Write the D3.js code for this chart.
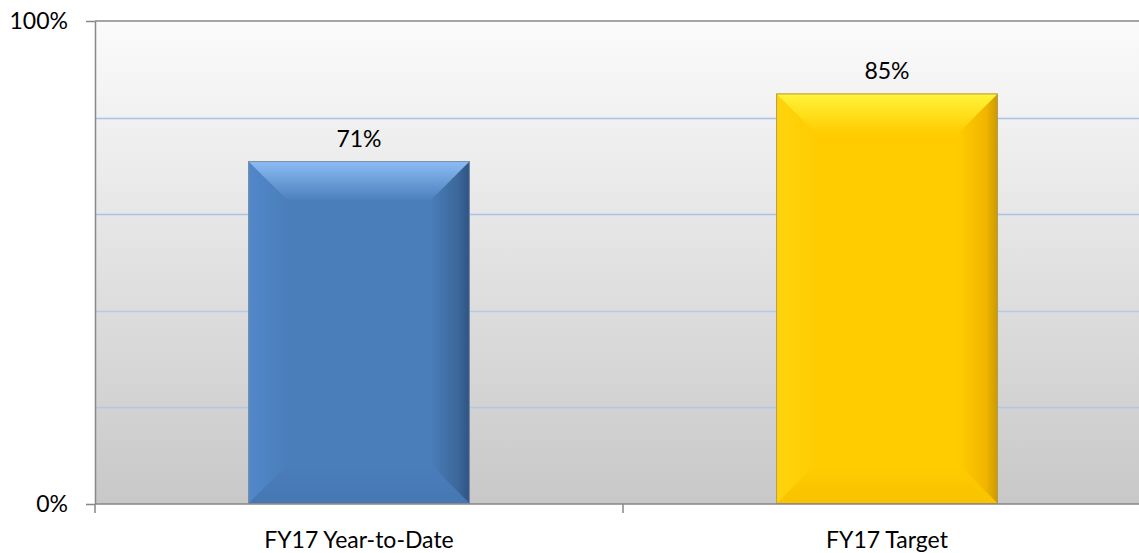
<!DOCTYPE html>
<html>
<head>
<meta charset="utf-8">
<script src="https://cdn.jsdelivr.net/npm/d3@7"></script>
<style>
  html, body { margin: 0; padding: 0; background: #fff; }
  svg text { font-family: Lato, "Liberation Sans", sans-serif; fill: #000; }
</style>
</head>
<body>
<div id="chart"></div>
<script>
// chart data
const categories = ['FY17 Year-to-Date', 'FY17 Target'];
const values = [0.71, 0.85];
const valueLabels = ['71%', '85%'];
const yTickValues = [0, 1];
const gridValues = [0.2, 0.4, 0.6, 0.8];

const WIDTH = 1139;
const HEIGHT = 553;
const MARGIN = { top: 21, left: 95, bottom: 49 };
const PLOT_RIGHT = 1151;        // plot area runs past the window edge
const BEVEL = 40;
const AXIS_COLOR = '#878787';
const FONT_SIZE = 23;

// colours per bar: base, top light, left, right, bottom, edge
const BAR_STYLES = [
  { base: '#4a7ebb', top: '#8dbdf5', left: '#5188cb', right: '#3c679a', rightEdge: '#2e5283', bottom: '#4577b2', stroke: '#7f8fa3' },
  { base: '#ffcc00', top: '#fff43a', left: '#ffd40d', right: '#f2b500', rightEdge: '#c89a00', bottom: '#f8c200', stroke: '#b89a55' }
];

const svg = d3.select('#chart')
  .append('svg')
    .attr('width', WIDTH)
    .attr('height', HEIGHT);

const defs = svg.append('defs');

const x = d3.scaleBand()
  .domain(categories)
  .range([MARGIN.left, PLOT_RIGHT])
  .paddingInner(0.58)
  .paddingOuter(0.29);

const y = d3.scaleLinear()
  .domain([0, 1])
  .range([HEIGHT - MARGIN.bottom, MARGIN.top]);

// plot area background gradient
const bg = defs.append('linearGradient')
  .attr('id', 'plot-bg')
  .attr('x1', 0).attr('y1', 0).attr('x2', 0).attr('y2', 1);
bg.append('stop').attr('offset', '0%').attr('stop-color', '#fbfbfb');
bg.append('stop').attr('offset', '100%').attr('stop-color', '#c8c8c8');

svg.append('rect')
  .attr('x', MARGIN.left)
  .attr('y', y(1))
  .attr('width', PLOT_RIGHT - MARGIN.left)
  .attr('height', y(0) - y(1))
  .attr('fill', 'url(#plot-bg)');

// gridlines
svg.append('g')
  .selectAll('line')
  .data(gridValues)
  .enter()
  .append('line')
    .attr('x1', MARGIN.left)
    .attr('x2', PLOT_RIGHT)
    .attr('y1', d => Math.round(y(d)) + 0.5)
    .attr('y2', d => Math.round(y(d)) + 0.5)
    .attr('stroke', '#a9c2ec')
    .attr('stroke-opacity', d => d > 0.5 ? 1 : 0.75)
    .attr('stroke-width', 1.5);

// top border of plot area
svg.append('line')
  .attr('x1', MARGIN.left).attr('x2', PLOT_RIGHT)
  .attr('y1', y(1)).attr('y2', y(1))
  .attr('stroke', AXIS_COLOR)
  .attr('stroke-width', 1.5);

// gradients for the bevel faces
function addGradient (id, vertical, stops) {
  const g = defs.append('linearGradient')
    .attr('id', id)
    .attr('x1', 0).attr('y1', 0)
    .attr('x2', vertical ? 0 : 1).attr('y2', vertical ? 1 : 0);
  stops.forEach(s => g.append('stop').attr('offset', s[0]).attr('stop-color', s[1]));
}

BAR_STYLES.forEach((s, i) => {
  addGradient(`top-${i}`, true, [['0%', s.top], ['100%', s.base]]);
  addGradient(`left-${i}`, false, [['0%', s.left], ['100%', s.base]]);
  addGradient(`right-${i}`, false, [['0%', s.base], ['70%', s.right], ['100%', s.rightEdge]]);
  addGradient(`bottom-${i}`, true, [['0%', s.base], ['100%', s.bottom]]);
});

// bars
const bars = svg.append('g')
  .selectAll('g')
  .data(values)
  .enter()
  .append('g');

bars.each(function (d, i) {
  const g = d3.select(this);
  const x0 = x(categories[i]);
  const x1 = x0 + x.bandwidth();
  const y0 = y(d);
  const y1 = y(0);
  const b = BEVEL;
  const pts = p => p.map(q => q.join(',')).join(' ');

  g.append('rect')
    .attr('x', x0).attr('y', y0)
    .attr('width', x1 - x0).attr('height', y1 - y0)
    .attr('fill', BAR_STYLES[i].base);
  // left face
  g.append('polygon')
    .attr('points', pts([[x0, y0], [x0 + b, y0 + b], [x0 + b, y1 - b], [x0, y1]]))
    .attr('fill', `url(#left-${i})`);
  // right face
  g.append('polygon')
    .attr('points', pts([[x1, y0], [x1 - b, y0 + b], [x1 - b, y1 - b], [x1, y1]]))
    .attr('fill', `url(#right-${i})`);
  // bottom face
  g.append('polygon')
    .attr('points', pts([[x0, y1], [x0 + b, y1 - b], [x1 - b, y1 - b], [x1, y1]]))
    .attr('fill', `url(#bottom-${i})`);
  // top face
  g.append('polygon')
    .attr('points', pts([[x0, y0], [x1, y0], [x1 - b, y0 + b], [x0 + b, y0 + b]]))
    .attr('fill', `url(#top-${i})`);
  g.append('rect')
    .attr('x', x0 + 0.5).attr('y', y0 + 0.5)
    .attr('width', x1 - x0 - 1).attr('height', y1 - y0 - 1)
    .attr('fill', 'none')
    .attr('stroke', BAR_STYLES[i].stroke)
    .attr('stroke-width', 1);
});

// value labels
svg.append('g')
  .selectAll('text')
  .data(values)
  .enter()
  .append('text')
    .attr('x', (d, i) => x(categories[i]) + x.bandwidth() / 2)
    .attr('y', d => y(d) - 14)
    .attr('text-anchor', 'middle')
    .style('font-size', FONT_SIZE + 'px')
    .text((d, i) => valueLabels[i]);

// y axis
const yAxis = svg.append('g')
  .attr('transform', `translate(${MARGIN.left}, 0)`)
  .call(d3.axisLeft(y)
    .tickValues(yTickValues)
    .tickFormat(d3.format('.0%'))
    .tickSize(9)
    .tickSizeOuter(0)
    .tickPadding(18));
yAxis.selectAll('path, line').attr('stroke', AXIS_COLOR).attr('stroke-width', 1.5);
yAxis.selectAll('text')
  .style('font-size', FONT_SIZE + 'px')
  .attr('font-family', null);

// x axis line and band ticks
const xAxis = svg.append('g');
xAxis.append('line')
  .attr('x1', MARGIN.left).attr('x2', PLOT_RIGHT)
  .attr('y1', y(0)).attr('y2', y(0))
  .attr('stroke', AXIS_COLOR)
  .attr('stroke-width', 1.5);
xAxis.selectAll('line.tick')
  .data(d3.range(categories.length + 1))
  .enter()
  .append('line')
    .attr('class', 'tick')
    .attr('x1', i => MARGIN.left + i * x.step())
    .attr('x2', i => MARGIN.left + i * x.step())
    .attr('y1', y(0))
    .attr('y2', y(0) + 9)
    .attr('stroke', AXIS_COLOR)
    .attr('stroke-width', 1.5);

// category labels
const xLabels = svg.append('g')
  .attr('transform', `translate(0, ${y(0)})`)
  .call(d3.axisBottom(x).tickSize(0).tickPadding(28));
xLabels.select('.domain').remove();
xLabels.selectAll('text')
  .style('font-size', FONT_SIZE + 'px')
  .attr('font-family', null);
</script>
</body>
</html>
